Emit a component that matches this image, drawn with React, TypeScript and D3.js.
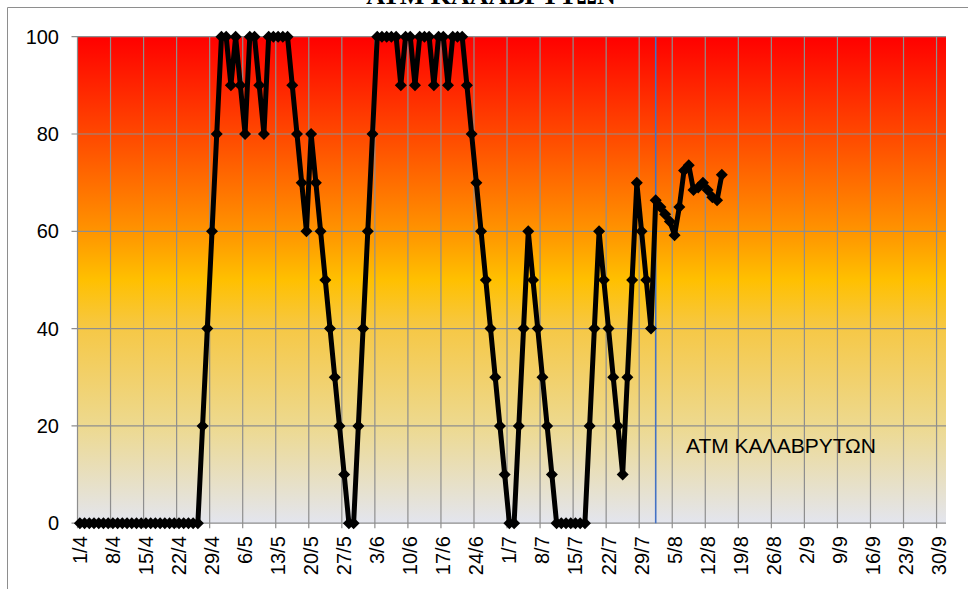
import * as d3 from "d3";

const startDate = new Date(2012, 3, 1);
const endDate = new Date(2012, 9, 2); // exclusive, axis runs to 1/10

// daily values from 1/4 onwards
const values = [
  0, 0, 0, 0, 0, 0, 0, 0, 0, 0, 0, 0, 0, 0, 0, 0, 0, 0, 0, 0, 0, 0, 0, 0, 0, 0,
  20, 40, 60, 80, 100, 100, 90, 100, 90, 80, 100, 100, 90, 80,
  100, 100, 100, 100, 100, 90, 80, 70, 60, 80, 70, 60, 50, 40, 30, 20, 10, 0, 0,
  20, 40, 60, 80, 100, 100, 100, 100, 100, 90, 100, 100, 90, 100, 100, 100, 90,
  100, 100, 90, 100, 100, 100, 90, 80, 70, 60, 50, 40, 30, 20, 10, 0, 0,
  20, 40, 60, 50, 40, 30, 20, 10, 0, 0, 0, 0, 0, 0, 0,
  20, 40, 60, 50, 40, 30, 20, 10, 30, 50, 70, 60, 50, 40,
  66.4, 65, 63.5, 62, 59.2, 65, 72.5, 73.6, 68.5, 69, 70, 68.5, 67, 66.4, 71.6,
];

const tickLabels = [
  "1/4", "8/4", "15/4", "22/4", "29/4", "6/5", "13/5", "20/5", "27/5", "3/6",
  "10/6", "17/6", "24/6", "1/7", "8/7", "15/7", "22/7", "29/7", "5/8", "12/8",
  "19/8", "26/8", "2/9", "9/9", "16/9", "23/9", "30/9",
];

const yTicks = [0, 20, 40, 60, 80, 100];
const markerDate = "1/8";
const seriesName = "ΑΤΜ ΚΑΛΑΒΡΥΤΩΝ";
const title = "ΑΤΜ ΚΑΛΑΒΡΥΤΩΝ";

const W = 968;
const H = 589;
const plot = { left: 77.5, right: 946, top: 36.7, bottom: 523.2 };

const days = d3.timeDay.range(startDate, endDate);
const parseDM = (s: string) => {
  const [d, m] = s.split("/").map(Number);
  return new Date(2012, m - 1, d);
};

export default function App() {
  const x = d3
    .scaleBand<number>()
    .domain(days.map((d) => +d))
    .range([plot.left, plot.right])
    .padding(0);
  const bw = x.bandwidth();
  const cx = (d: Date) => (x(+d) ?? 0) + bw / 2;

  const y = d3.scaleLinear().domain([0, 100]).range([plot.bottom, plot.top]);

  const points = values.map((v, i) => ({ date: days[i], v }));

  const line = d3
    .line<{ date: Date; v: number }>()
    .x((d) => cx(d.date))
    .y((d) => y(d.v));

  const diamond = d3.symbol().type(d3.symbolSquare).size(72)();

  const grid = "#8e8e8e";
  const font = "'Liberation Sans', Arial, sans-serif";

  return (
    <svg
      width={W}
      height={H}
      style={{ position: "fixed", left: 0, top: 0, background: "#fff" }}
    >
      <defs>
        <linearGradient id="bg" x1="0" y1="0" x2="0" y2="1">
          <stop offset="0" stopColor="#FF0000" />
          <stop offset="0.2" stopColor="#FF4800" />
          <stop offset="0.4" stopColor="#FF9400" />
          <stop offset="0.5" stopColor="#FFC000" />
          <stop offset="0.6" stopColor="#F6C846" />
          <stop offset="0.8" stopColor="#EDD98F" />
          <stop offset="1" stopColor="#E3E5EE" />
        </linearGradient>
      </defs>

      <text
        x={491}
        y={4}
        textAnchor="middle"
        fontFamily="'Liberation Serif', 'Times New Roman', serif"
        fontWeight="bold"
        fontSize={26}
      >
        {title}
      </text>

      <line x1={7.5} y1={7.5} x2={W} y2={7.5} stroke={grid} />
      <line x1={7.5} y1={7.5} x2={7.5} y2={H} stroke={grid} />

      <rect
        x={plot.left}
        y={plot.top}
        width={plot.right - plot.left}
        height={plot.bottom - plot.top}
        fill="url(#bg)"
      />

      {yTicks.map((t) => (
        <g key={t}>
          <line
            x1={plot.left - 6}
            x2={plot.right}
            y1={y(t)}
            y2={y(t)}
            stroke={grid}
            strokeWidth={1.2}
          />
          <text
            x={59}
            y={y(t)}
            dy="0.35em"
            textAnchor="end"
            fontFamily={font}
            fontSize={20}
          >
            {t}
          </text>
        </g>
      ))}

      {tickLabels.map((lab) => {
        const d = parseDM(lab);
        const gx = x(+d) ?? 0;
        return (
          <g key={lab}>
            <line
              x1={gx}
              x2={gx}
              y1={plot.top}
              y2={plot.bottom + 5}
              stroke={grid}
              strokeWidth={1.2}
            />
            <text
              transform={`translate(${cx(d)},${plot.bottom + 13}) rotate(-90)`}
              dy="0.35em"
              textAnchor="end"
              fontFamily={font}
              fontSize={20}
            >
              {lab}
            </text>
          </g>
        );
      })}

      <line
        x1={cx(parseDM(markerDate))}
        x2={cx(parseDM(markerDate))}
        y1={plot.top}
        y2={plot.bottom}
        stroke="#4472C4"
        strokeWidth={1.6}
      />

      <path
        d={line(points) ?? ""}
        fill="none"
        stroke="#000"
        strokeWidth={5}
        strokeLinejoin="round"
      />
      {points.map((p, i) => (
        <path
          key={i}
          d={diamond ?? ""}
          transform={`translate(${cx(p.date)},${y(p.v)}) rotate(45)`}
          fill="#000"
        />
      ))}

      <text x={686} y={453} fontFamily={font} fontSize={21}>
        {seriesName}
      </text>
    </svg>
  );
}
